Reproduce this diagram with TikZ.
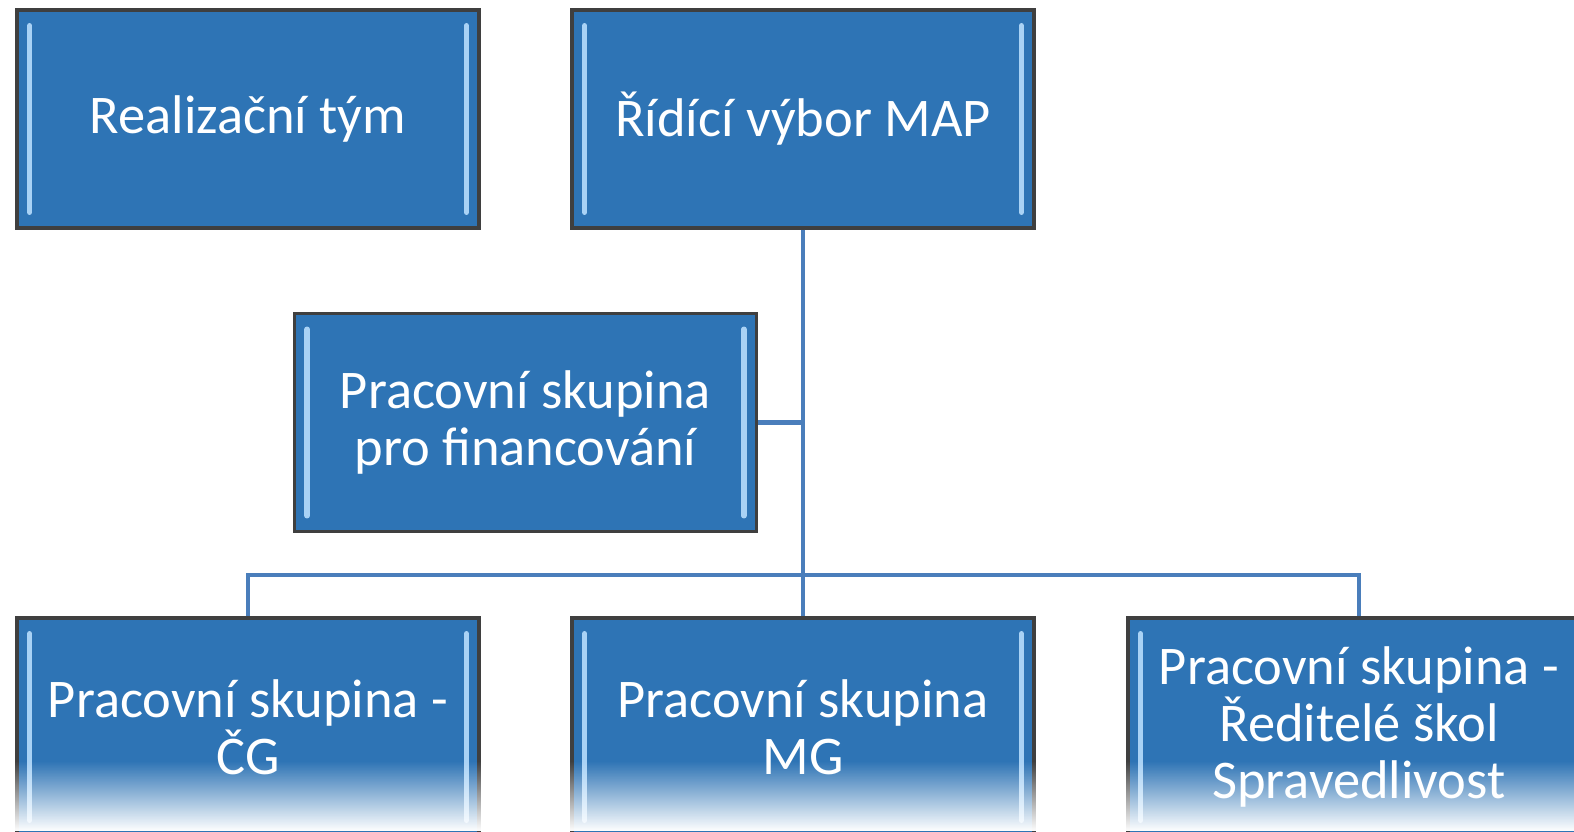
\documentclass[tikz,border=0pt]{standalone}
\usepackage{fontspec}
\setmainfont{Carlito}
\usepackage{tikz}
\usetikzlibrary{fadings}

\definecolor{boxblue}{HTML}{2E74B5}
\definecolor{boxedge}{HTML}{3F3F3F}
\definecolor{bevel}{HTML}{A9D2F5}
\definecolor{linkblue}{HTML}{4A7EBB}

\begin{document}
\begin{tikzpicture}[
    orgbox/.style={shape=rectangle, draw=boxedge, line width=0.9pt, fill=boxblue,
      minimum width=4.62cm, minimum height=2.18cm, inner sep=0pt,
      text=white, align=center, font=\fontsize{15.5}{16.3}\selectfont,
      path picture={
        \draw[bevel, line width=1.6pt, line cap=round]
          ([xshift=3.6pt,yshift=-4.5pt]path picture bounding box.north west) --
          ([xshift=3.6pt,yshift=4.5pt]path picture bounding box.south west);
        \draw[bevel, line width=1.6pt, line cap=round]
          ([xshift=-3.6pt,yshift=-4.5pt]path picture bounding box.north east) --
          ([xshift=-3.6pt,yshift=4.5pt]path picture bounding box.south east);}},
    link/.style={draw=linkblue, line width=1.3pt}]
    \useasboundingbox (0,0) rectangle (15.74,8.31);
    \clip (0,0) rectangle (15.74,8.31);

    % top row
    \node[orgbox] (tym) at (2.48,7.12) {Realizační tým};
    \node[orgbox] (ridici) at (8.03,7.12) {Řídící výbor MAP};
    % middle
    \node[orgbox] (fin) at (5.255,4.085) {Pracovní skupina\\pro financování};
    % bottom row
    \node[orgbox] (cg) at (2.48,1.04) {Pracovní skupina -\\ČG};
    \node[orgbox] (mg) at (8.03,1.04) {Pracovní skupina\\MG};
    \node[orgbox] (reditele) at (13.59,1.04) {Pracovní skupina -\\Ředitelé škol\\Spravedlivost};

    \coordinate (split) at (ridici.south |- 0,2.56);
    \draw[link] (ridici.south) -- (mg.north);
    \draw[link] (fin.east) -- (fin.east -| ridici.south);
    \draw[link] (cg.north) |- (split) -| (reditele.north);

    % fade at the bottom edge
    \fill[white, path fading=north] (0,0) rectangle (15.74,0.7);
  \end{tikzpicture}
\end{document}
